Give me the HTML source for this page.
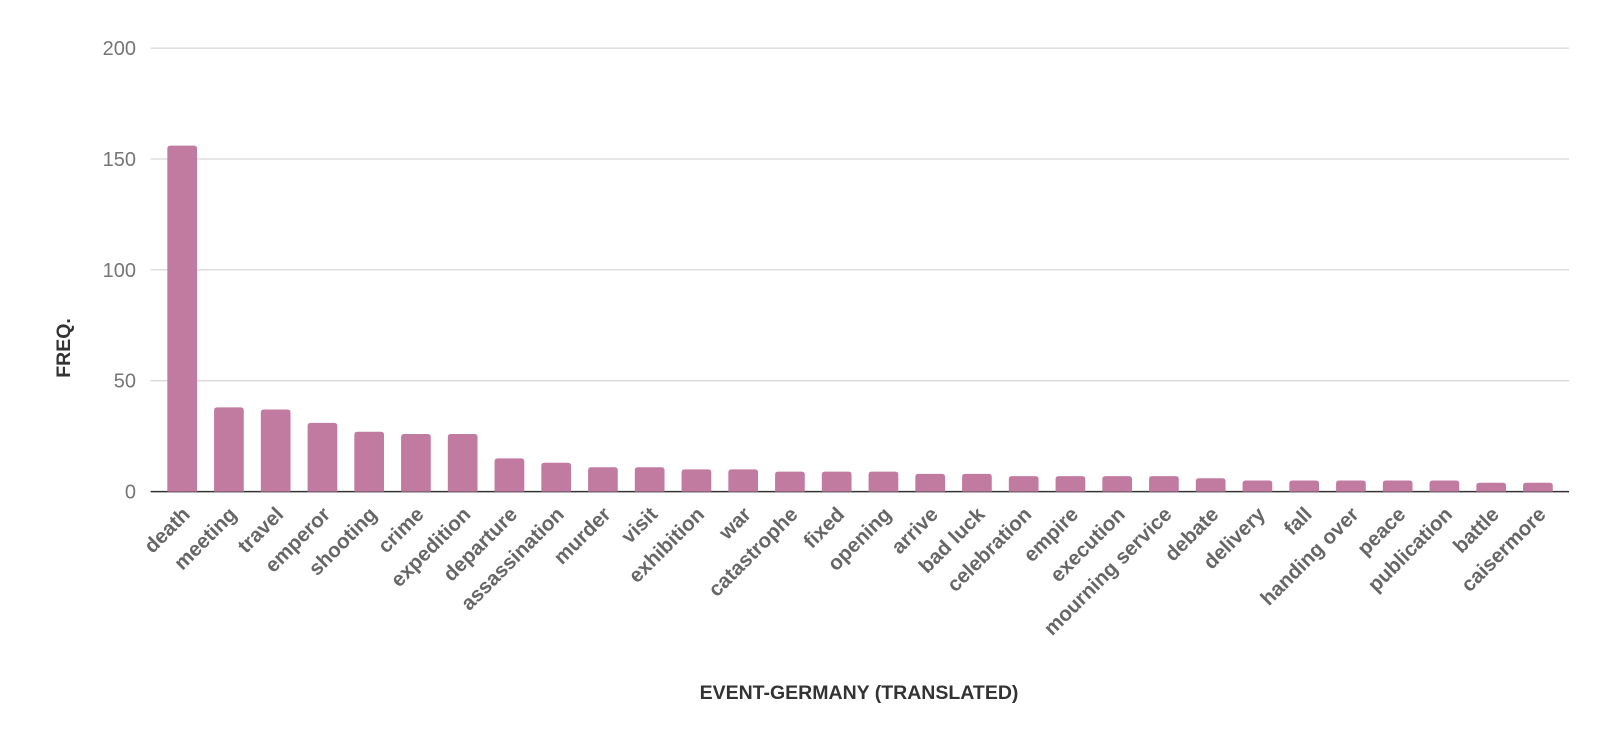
<!DOCTYPE html>
<html><head><meta charset="utf-8"><style>
body{margin:0;background:#fff;}
svg text{font-family:"Liberation Sans",Roboto,sans-serif;}
</style></head><body>
<svg width="1606" height="742">
<g id="grid"></g><g id="bars"></g><g id="xl"></g>
<text x="859" y="699" text-anchor="middle" font-size="19.5" font-weight="bold" fill="#333">EVENT-GERMANY (TRANSLATED)</text>
<text transform="translate(70,348) rotate(-90)" text-anchor="middle" font-size="19.5" font-weight="bold" fill="#333">FREQ.</text>
</svg>
<script>
const categories=["death","meeting","travel","emperor","shooting","crime","expedition","departure","assassination","murder","visit","exhibition","war","catastrophe","fixed","opening","arrive","bad luck","celebration","empire","execution","mourning service","debate","delivery","fall","handing over","peace","publication","battle","caisermore"];
const values=[156,38,37,31,27,26,26,15,13,11,11,10,10,9,9,9,8,8,7,7,7,7,6,5,5,5,5,5,4,4];
const yTicks=[0,50,100,150,200];
const NS="http://www.w3.org/2000/svg";
const y0=491.6,y1=48.1,x0=150.6,x1=1569,bandStart=158.8,band=46.75,bw=29.7;
const y=v=>y0-(v/200)*(y0-y1);
const xc=i=>bandStart+band*(i+0.5);
function mk(t,a){const e=document.createElementNS(NS,t);for(const k in a)e.setAttribute(k,a[k]);return e;}
const g=document.getElementById('grid');
yTicks.forEach(t=>{
 const l=mk('line',{x1:x0,x2:x1,y1:y(t),y2:y(t),stroke:t===0?'#333':'#ccc','stroke-width':t===0?1.5:1});
 
 
 g.appendChild(l);
 const tx=mk('text',{x:136,y:y(t)+7,'text-anchor':'end','font-size':20,fill:'#757575'});
 tx.textContent=t;
 
 
 g.appendChild(tx);
});
const b=document.getElementById('bars'),xl=document.getElementById('xl');
values.forEach((v,i)=>{
 const r=mk('path',{d:`M${xc(i)-bw/2},${y0} V${y(v)+3} q0,-3 3,-3 h${bw-6} q3,0 3,3 V${y0} Z`,fill:'#c27ba0'});
 
 
 b.appendChild(r);
 const t=mk('text',{transform:`translate(${xc(i)+9},${y0+24}) rotate(-45)`,'text-anchor':'end','font-size':20.5,'font-weight':'bold',fill:'#666'});
 t.textContent=categories[i];
 
 
 xl.appendChild(t);
});
</script>
</body></html>
